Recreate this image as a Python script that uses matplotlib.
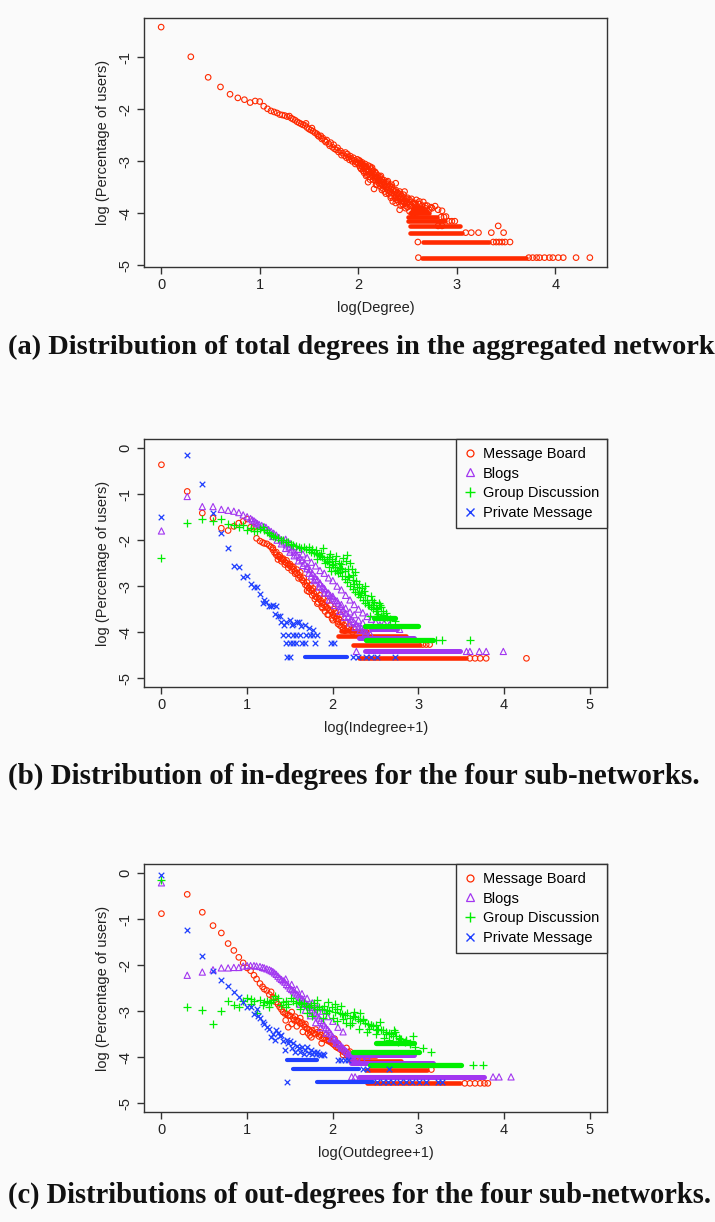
import matplotlib
matplotlib.use("Agg")
import matplotlib.pyplot as plt
from matplotlib.lines import Line2D

W, H = 715, 1222
BG = "#fafafa"
RED, PURPLE, GREEN, BLUE = "#ff2a00", "#a236f0", "#00ee00", "#1f3fff"
SANS = ["Liberation Sans", "DejaVu Sans"]
SERIF = ["Liberation Serif", "DejaVu Serif"]

# ---------------- Panel (a): total degree ----------------
A_X = [0, .301, .477, .602, .699, .778, .845, .903, .954, 1.0, 1.041, 1.079, 1.114, 1.146, 1.176,
       1.204, 1.230, 1.255, 1.279, 1.301,
       1.32, 1.34, 1.36, 1.38, 1.40, 1.42, 1.44, 1.46, 1.47, 1.48, 1.50, 1.52, 1.53, 1.54, 1.56, 1.58,
       1.59, 1.60, 1.62, 1.63, 1.64, 1.66, 1.67, 1.68, 1.70, 1.71, 1.72, 1.74, 1.75, 1.76, 1.78, 1.79,
       1.80, 1.82, 1.83, 1.84, 1.86, 1.87, 1.88, 1.89, 1.90, 1.91, 1.92, 1.93, 1.94, 1.95, 1.96, 1.97,
       1.98, 1.99, 2.00,
       2.01, 2.01, 2.02, 2.02, 2.03, 2.03, 2.04, 2.04, 2.05, 2.05, 2.06, 2.06, 2.07, 2.07, 2.08, 2.08,
       2.09, 2.09, 2.10, 2.10, 2.11, 2.11, 2.12, 2.12, 2.13, 2.13, 2.14, 2.14, 2.15, 2.15, 2.16, 2.16,
       2.17, 2.17, 2.18, 2.18, 2.19, 2.19, 2.20, 2.20, 2.21, 2.21, 2.22, 2.22, 2.23, 2.23, 2.24, 2.24,
       2.25, 2.25, 2.26, 2.26, 2.27, 2.27, 2.28, 2.28, 2.29, 2.29, 2.30, 2.30, 2.31, 2.31, 2.32, 2.32,
       2.33, 2.33, 2.34, 2.34, 2.35, 2.35, 2.36, 2.36, 2.37, 2.37, 2.38, 2.38, 2.39, 2.39, 2.40, 2.40,
       2.41, 2.41, 2.42, 2.42, 2.43, 2.43, 2.44, 2.44, 2.45, 2.45, 2.46, 2.46, 2.47, 2.47, 2.48, 2.48,
       2.49, 2.49, 2.50, 2.50, 2.52, 2.52, 2.54, 2.54, 2.555, 2.555, 2.57, 2.57, 2.59, 2.59, 2.62, 2.62,
       2.65, 2.65, 2.68, 2.68, 2.72, 2.75, 2.81, 2.85, 2.89,
       2.02, 2.06, 2.10, 2.14, 2.18, 2.22, 2.26, 2.30, 2.34, 2.38, 2.42, 2.46, 2.50, 2.54, 2.58, 2.62,
       2.66, 2.70, 2.74, 2.78,
       2.08, 2.12, 2.18, 2.24, 2.28, 2.33, 2.38, 2.43, 2.48, 2.52, 2.56, 2.60,
       2.61, 3.73, 3.77, 3.81, 3.84, 3.89, 3.94, 3.975, 4.03, 4.08, 4.21, 4.35,
       2.605, 3.37, 3.40, 3.43, 3.46, 3.49, 3.54,
       3.09, 3.147, 3.22, 3.35, 3.475,
       2.81, 2.85, 3.42,
       2.92, 2.95, 2.98,
       2.84, 2.87]
A_Y = [-0.42, -0.99, -1.385, -1.57, -1.71, -1.78, -1.815, -1.87, -1.84, -1.85, -1.94, -1.99, -2.03, -2.05,
       -2.07, -2.10, -2.11, -2.12, -2.14, -2.13,
       -2.17, -2.19, -2.21, -2.24, -2.26, -2.28, -2.30, -2.31, -2.27, -2.35, -2.38, -2.40, -2.36, -2.42,
       -2.45, -2.47, -2.50, -2.52, -2.51, -2.57, -2.55, -2.60, -2.63, -2.59, -2.66, -2.70, -2.64, -2.73,
       -2.68, -2.76, -2.78, -2.74, -2.82, -2.80, -2.88, -2.84, -2.89, -2.83, -2.93, -2.86, -2.92, -2.97,
       -2.90, -2.95, -3.00, -2.93, -2.98, -3.05, -3.02, -2.96, -3.04,
       -3.08, -2.98, -3.12, -3.03, -3.05, -3.15, -3.10, -3.02, -3.18, -3.07, -3.09, -3.22, -3.12, -3.05,
       -3.20, -3.10, -3.14, -3.26, -3.08, -3.40, -3.17, -3.25, -3.10, -3.30, -3.22, -3.14, -3.28, -3.12,
       -3.18, -3.35, -3.25, -3.53, -3.20, -3.32, -3.23, -3.38, -3.30, -3.45, -3.27, -3.36, -3.33, -3.42,
       -3.30, -3.48, -3.38, -3.28, -3.44, -3.35, -3.40, -3.52, -3.36, -3.47, -3.45, -3.58, -3.42, -3.50,
       -3.48, -3.40, -3.55, -3.45, -3.50, -3.62, -3.58, -3.47, -3.53, -3.66, -3.60, -3.50, -3.77, -3.56,
       -3.63, -3.55, -3.58, -3.70, -3.66, -3.42, -3.62, -3.74, -3.70, -3.60, -3.66, -3.78, -3.93, -3.72,
       -3.70, -3.63, -3.76, -3.68, -3.82, -3.72, -3.70, -3.78, -3.58, -3.80, -3.76, -3.85, -3.82, -3.72,
       -3.79, -3.88, -3.82, -3.74, -3.85, -3.78, -4.00, -3.80, -3.82, -3.90, -3.74, -3.87, -3.77, -3.90,
       -3.85, -3.93, -3.90, -3.85, -3.93, -3.90, -3.93, -3.95, -4.06,
       -3.00, -3.14, -3.20, -3.20, -3.30, -3.36, -3.40, -3.38, -3.45, -3.55, -3.58, -3.64, -3.70, -3.72,
       -3.80, -3.82, -3.78, -3.85, -3.88, -3.86,
       -3.28, -3.35, -3.45, -3.55, -3.62, -3.70, -3.80, -3.85, -3.90, -3.96, -4.00, -3.98,
       -4.85, -4.85, -4.85, -4.85, -4.85, -4.85, -4.85, -4.85, -4.85, -4.85, -4.85, -4.85,
       -4.55, -4.55, -4.55, -4.55, -4.55, -4.55, -4.55,
       -4.37, -4.37, -4.37, -4.37, -4.37,
       -4.24, -4.24, -4.24,
       -4.15, -4.15, -4.15,
       -4.07, -4.07]
A_BAND_Y = [-4.85, -4.55, -4.37, -4.24, -4.15, -4.07, -4.00, -3.95, -3.90]
A_BAND_X0 = [2.65, 2.66, 2.52, 2.52, 2.50, 2.50, 2.53, 2.55, 2.56]
A_BAND_X1 = [3.70, 3.33, 3.05, 3.03, 2.88, 2.80, 2.72, 2.70, 2.66]

# ---------------- Panel (b): in-degree ----------------
B_RED_X = [0, .301, .477, .602, .699, .778, .845, .903, .954, 1.0, 1.04, 1.08, 1.11, 1.15, 1.18, 1.20,
           1.23, 1.26, 1.28, 1.30, 1.32, 1.34, 1.36, 1.38, 1.40, 1.42, 1.44, 1.46, 1.48, 1.50, 1.52,
           1.54, 1.56, 1.58, 1.60, 1.62, 1.64, 1.66, 1.68, 1.70, 1.72, 1.74, 1.76, 1.78, 1.80, 1.82,
           1.84, 1.86, 1.88, 1.90, 1.92, 1.94, 1.96, 1.98, 2.00, 2.02, 2.04, 2.06, 2.08, 2.10, 2.12, 2.14,
           1.62, 1.66, 1.70, 1.72, 1.74, 1.77, 1.79, 1.81, 1.83, 1.85, 1.87, 1.89, 1.91, 1.93, 1.95,
           1.97, 1.99, 2.01, 2.03, 2.05, 2.07, 2.09, 2.11, 2.13, 2.15, 2.17, 2.19, 2.21, 2.23, 2.25,
           1.30, 1.34, 1.38, 1.42, 1.46, 1.50, 1.54, 1.58,
           1.36, 1.40, 1.44, 1.48, 1.52, 1.56, 1.60,
           1.70, 1.76, 1.82, 1.88, 1.94, 2.00, 2.06,
           3.60, 3.66, 3.72, 3.79, 4.26, 3.05, 3.09, 3.13]
B_RED_Y = [-0.36, -0.94, -1.41, -1.52, -1.74, -1.79, -1.70, -1.63, -1.59, -1.54, -1.72, -1.72, -1.96,
           -2.02, -2.05, -2.07, -2.08, -2.12, -2.15, -2.21, -2.27, -2.32, -2.35, -2.37, -2.40, -2.43,
           -2.47, -2.50, -2.53, -2.56, -2.58, -2.63, -2.68, -2.72, -2.75, -2.80, -2.86, -2.90, -2.97,
           -3.00, -3.04, -3.07, -3.10, -3.16, -3.23, -3.25, -3.27, -3.32, -3.37, -3.42, -3.45, -3.48,
           -3.52, -3.55, -3.62, -3.66, -3.72, -3.77, -3.85, -3.88, -3.93, -3.97,
           -2.70, -2.82, -2.92, -3.12, -2.98, -3.05, -3.28, -3.12, -3.35, -3.20, -3.45, -3.28, -3.55,
           -3.33, -3.62, -3.42, -3.70, -3.50, -3.58, -3.65, -3.72, -3.62, -3.78, -3.85, -3.80, -3.92,
           -3.88, -3.95, -4.00, -3.93,
           -2.17, -2.26, -2.33, -2.40, -2.44, -2.52, -2.58, -2.64,
           -2.42, -2.46, -2.53, -2.60, -2.66, -2.73, -2.83,
           -3.10, -3.20, -3.38, -3.48, -3.62, -3.74, -3.82,
           -4.57, -4.57, -4.57, -4.57, -4.57, -4.27, -4.27, -4.27]
B_RED_BAND_Y = [-4.57, -4.27, -4.09, -3.97]
B_RED_BAND_X0 = [2.31, 2.24, 2.06, 2.10]
B_RED_BAND_X1 = [3.56, 3.02, 2.85, 2.40]

B_PUR_X = [0, .301, .477, .602, .699, .778, .845, .903, .954, 1.0, 1.04, 1.06, 1.08, 1.10, 1.12, 1.14,
           1.17, 1.20, 1.22, 1.25, 1.28, 1.31, 1.34, 1.37, 1.40, 1.43, 1.46, 1.49, 1.52, 1.55, 1.58,
           1.61, 1.64, 1.67, 1.70, 1.73, 1.76, 1.79, 1.82, 1.85, 1.88, 1.91, 1.94, 1.97, 2.00, 2.03,
           2.06, 2.09, 2.12, 2.15, 2.18, 2.21, 2.24, 2.27, 2.30, 2.33, 2.36, 2.39,
           1.45, 1.50, 1.55, 1.60, 1.65, 1.70, 1.75, 1.80, 1.85, 1.90, 1.95, 2.00, 2.05, 2.10, 2.15,
           2.20, 2.25, 2.30, 2.35, 2.40, 2.45, 2.50, 2.55, 2.60, 2.66,
           1.72, 1.78, 1.84, 1.90, 1.96, 2.02, 2.08, 2.14, 2.20, 2.26, 2.32, 2.38, 2.44,
           1.30, 1.35, 1.40, 1.45, 1.50, 1.55, 1.60, 1.65, 1.70, 1.75, 1.80, 1.85, 1.90, 1.95, 2.00,
           2.05, 2.10, 2.15, 2.20, 2.25, 2.30, 2.35,
           2.275, 3.56, 3.60, 3.71, 3.79, 3.99, 2.78]
B_PUR_Y = [-1.80, -1.05, -1.27, -1.27, -1.33, -1.35, -1.37, -1.40, -1.45, -1.49, -1.53, -1.56, -1.58,
           -1.61, -1.64, -1.66, -1.68, -1.71, -1.72, -1.77, -1.81, -1.85, -1.89, -1.94, -1.99, -2.04,
           -2.10, -2.15, -2.21, -2.26, -2.32, -2.37, -2.43, -2.50, -2.57, -2.64, -2.72, -2.79, -2.86,
           -2.93, -3.01, -3.08, -3.15, -3.20, -3.26, -3.31, -3.37, -3.44, -3.52, -3.59, -3.66, -3.72,
           -3.77, -3.82, -3.88, -3.91, -3.95, -3.99,
           -1.98, -2.07, -2.14, -2.20, -2.30, -2.38, -2.48, -2.56, -2.66, -2.72, -2.82, -2.88, -3.00,
           -3.08, -3.20, -3.30, -3.40, -3.50, -3.58, -3.66, -3.72, -3.78, -3.84, -3.80, -3.84,
           -2.72, -2.88, -3.02, -3.15, -3.30, -3.42, -3.55, -3.68, -3.80, -3.90, -3.96, -4.02, -4.05,
           -1.92, -2.00, -2.08, -2.18, -2.26, -2.34, -2.45, -2.55, -2.62, -2.78, -2.85, -2.95, -3.05,
           -3.15, -3.22, -3.32, -3.40, -3.48, -3.56, -3.62, -3.74, -3.80,
           -4.42, -4.42, -4.42, -4.42, -4.42, -4.42, -3.94]
B_PUR_BAND_Y = [-4.42, -4.12, -3.94]
B_PUR_BAND_X0 = [2.38, 2.30, 2.45]
B_PUR_BAND_X1 = [3.48, 2.95, 2.75]

B_GRN_X = [0, .301, .477, .602, .699, .778, .845, .903, .954, 1.0, 1.04, 1.08, 1.11, 1.15, 1.18, 1.20,
           1.23, 1.26, 1.28, 1.30, 1.33, 1.36, 1.39, 1.42, 1.45, 1.48, 1.51, 1.54, 1.57, 1.60, 1.63,
           1.66, 1.69, 1.72, 1.75, 1.78, 1.81, 1.84, 1.87, 1.90, 1.93, 1.96, 1.99, 2.02, 2.05, 2.08,
           2.11, 2.14, 2.17, 2.20, 2.23, 2.26, 2.29, 2.32, 2.35, 2.38, 2.41, 2.44, 2.47, 2.50, 2.53,
           2.56, 2.60,
           1.80, 1.85, 1.89, 1.93, 1.97, 2.00, 2.04, 2.08, 2.12, 2.16, 2.18, 2.20, 2.24, 2.26, 2.30,
           2.34, 2.38, 2.43, 2.47, 2.51, 2.55, 2.59, 2.63, 2.67, 2.72,
           1.72, 1.76, 1.82, 1.86, 1.91, 1.95, 1.98, 2.02, 2.06, 2.10, 2.14, 2.18, 2.22, 2.25, 2.28,
           2.31, 2.36, 2.40, 2.44, 2.48, 2.52, 2.56, 2.62,
           1.95, 1.99, 2.03, 2.07, 2.11, 2.15, 2.19, 2.23, 2.27, 2.33, 2.37, 2.42, 2.46, 2.50, 2.54, 2.58,
           3.21, 3.27, 3.60]
B_GRN_Y = [-2.38, -1.62, -1.54, -1.59, -1.54, -1.65, -1.67, -1.72, -1.67, -1.78, -1.74, -1.80, -1.81,
           -1.76, -1.72, -1.78, -1.82, -1.85, -1.88, -1.90, -1.93, -1.95, -1.99, -2.00, -2.03, -2.05,
           -2.08, -2.10, -2.12, -2.14, -2.16, -2.15, -2.20, -2.22, -2.25, -2.27, -2.30, -2.33, -2.36,
           -2.40, -2.45, -2.48, -2.52, -2.58, -2.64, -2.70, -2.77, -2.85, -2.92, -3.00, -3.06, -3.12,
           -3.18, -3.24, -3.30, -3.36, -3.40, -3.45, -3.50, -3.55, -3.60, -3.66, -3.70,
           -2.22, -2.35, -2.17, -2.42, -2.30, -2.55, -2.35, -2.60, -2.39, -2.33, -2.62, -2.50, -2.86,
           -2.70, -2.95, -3.05, -3.20, -3.64, -3.42, -3.64, -3.42, -3.55, -3.68, -3.72, -3.75,
           -2.15, -2.20, -2.40, -2.28, -2.50, -2.36, -2.66, -2.45, -2.72, -2.52, -2.68, -2.78, -2.62,
           -2.95, -3.02, -3.12, -3.10, -3.30, -3.22, -3.35, -3.50, -3.45, -3.58,
           -2.58, -2.40, -2.68, -2.50, -2.62, -2.45, -2.80, -2.75, -2.88, -3.15, -3.00, -3.40, -3.30,
           -3.48, -3.36, -3.62,
           -4.17, -4.17, -4.17]
B_GRN_BAND_Y = [-4.17, -3.87, -3.69]
B_GRN_BAND_X0 = [2.39, 2.37, 2.48]
B_GRN_BAND_X1 = [3.17, 2.99, 2.72]

B_BLU_X = [0, .301, .477, .602, .699, .778, .845, .903, .954, 1.0, 1.04, 1.08, 1.11, 1.15, 1.18, 1.20,
           1.22, 1.25, 1.28, 1.30, 1.32, 1.34, 1.36, 1.38, 1.40, 1.43, 1.45, 1.50, 1.52, 1.53, 1.58,
           1.60, 1.63, 1.68, 1.72, 1.77,
           1.42, 1.48, 1.535, 1.575, 1.62, 1.69, 1.73, 1.77, 1.81,
           1.45, 1.50, 1.535, 1.575, 1.645, 1.67, 1.79, 1.98, 2.01,
           1.46, 1.50, 2.24, 2.29, 2.39, 2.45, 2.51, 2.72]
B_BLU_Y = [-1.50, -0.15, -0.78, -1.41, -1.84, -2.17, -2.56, -2.58, -2.81, -2.78, -2.95, -3.02, -3.02,
           -3.17, -3.36, -3.30, -3.35, -3.44, -3.44, -3.42, -3.60, -3.44, -3.66, -3.65, -3.79, -3.84,
           -3.77, -3.74, -3.84, -3.83, -3.77, -3.77, -3.86, -3.84, -3.92, -3.95,
           -4.06, -4.06, -4.06, -4.06, -4.06, -4.06, -4.06, -4.06, -4.06,
           -4.24, -4.24, -4.24, -4.24, -4.24, -4.24, -4.24, -4.24, -4.24,
           -4.54, -4.54, -4.54, -4.54, -4.54, -4.54, -4.54, -4.54]
B_BLU_BAND_Y = [-4.54]
B_BLU_BAND_X0 = [1.67]
B_BLU_BAND_X1 = [2.16]

# ---------------- Panel (c): out-degree ----------------
C_RED_X = [0, .301, .477, .602, .699, .778, .845, .903, .954, 1.0, 1.04, 1.08, 1.11, 1.15, 1.18, 1.20,
           1.23, 1.26, 1.28, 1.30, 1.32, 1.34, 1.36, 1.38, 1.40, 1.42, 1.44, 1.46, 1.48, 1.50, 1.52,
           1.54, 1.56, 1.58, 1.60, 1.62, 1.64, 1.66, 1.68, 1.70, 1.72, 1.74, 1.76, 1.78, 1.80, 1.82,
           1.84, 1.86, 1.88, 1.90, 1.92, 1.94, 1.96, 1.98, 2.00, 2.02, 2.04, 2.06, 2.08, 2.10, 2.12,
           2.14, 2.16, 2.18, 2.20, 2.22, 2.25, 2.28,
           1.45, 1.48, 1.52, 1.55, 1.58, 1.62, 1.65, 1.68, 1.71, 1.73, 1.75, 1.80, 1.85, 1.87, 1.92,
           1.96, 2.02, 2.06, 2.12, 2.16, 2.20,
           3.54, 3.60, 3.66, 3.72, 3.77, 3.81, 3.15]
C_RED_Y = [-0.88, -0.46, -0.85, -1.14, -1.30, -1.53, -1.68, -1.83, -1.95, -2.06, -2.12, -2.22, -2.30,
           -2.40, -2.47, -2.52, -2.55, -2.64, -2.58, -2.70, -2.72, -2.80, -2.85, -2.91, -2.96, -3.02,
           -3.05, -3.06, -3.09, -3.10, -3.02, -3.16, -3.12, -3.20, -3.22, -3.27, -3.25, -3.30, -3.35,
           -3.38, -3.40, -3.45, -3.42, -3.48, -3.50, -3.46, -3.55, -3.52, -3.60, -3.58, -3.62, -3.64,
           -3.66, -3.68, -3.71, -3.74, -3.78, -3.80, -3.82, -3.85, -3.88, -3.90, -3.93, -3.90, -3.95,
           -3.98, -4.00, -4.02,
           -3.20, -3.35, -3.28, -3.20, -3.33, -3.15, -3.45, -3.28, -3.48, -3.53, -3.57, -3.40, -3.46,
           -3.70, -3.52, -3.64, -3.60, -3.70, -3.95, -3.80, -3.88,
           -4.57, -4.57, -4.57, -4.57, -4.57, -4.57, -4.27]
C_RED_BAND_Y = [-4.57, -4.27, -4.09, -3.97]
C_RED_BAND_X0 = [2.40, 2.39, 2.20, 2.15]
C_RED_BAND_X1 = [3.48, 3.10, 2.80, 2.50]

C_PUR_X = [0, .301, .477, .602, .699, .778, .845, .903, .954, 1.0, 1.04, 1.08, 1.11, 1.15, 1.18, 1.20,
           1.23, 1.26, 1.28, 1.30, 1.32, 1.34, 1.36, 1.38, 1.40, 1.42, 1.44, 1.46, 1.48, 1.50, 1.52,
           1.54, 1.56, 1.58, 1.60, 1.62, 1.64, 1.66, 1.68, 1.70, 1.72, 1.74, 1.76, 1.78, 1.80, 1.82,
           1.84, 1.86, 1.88, 1.90, 1.92, 1.94, 1.96, 1.98, 2.00, 2.02, 2.04, 2.06, 2.08, 2.10, 2.12,
           2.14, 2.16, 2.18, 2.20, 2.22, 2.24,
           1.62, 1.68, 1.74, 1.80, 1.86, 1.92, 1.98, 2.04, 2.10, 2.16, 2.22, 2.28, 2.34, 2.40,
           1.45, 1.52, 1.58, 1.64, 1.70, 1.76, 1.82, 1.88, 1.94, 2.00, 2.06, 2.12,
           2.22, 2.26, 3.87, 3.94, 4.08]
C_PUR_Y = [-0.21, -2.22, -2.15, -2.10, -2.06, -2.06, -2.05, -2.05, -2.02, -2.01, -2.01, -2.01, -2.02,
           -2.03, -2.05, -2.06, -2.08, -2.10, -2.12, -2.14, -2.17, -2.20, -2.24, -2.28, -2.31, -2.34,
           -2.37, -2.42, -2.45, -2.50, -2.53, -2.56, -2.60, -2.63, -2.67, -2.70, -2.73, -2.77, -2.82,
           -2.86, -2.88, -2.92, -2.97, -3.02, -3.06, -3.10, -3.15, -3.20, -3.26, -3.30, -3.36, -3.40,
           -3.45, -3.50, -3.56, -3.60, -3.64, -3.69, -3.73, -3.76, -3.80, -3.84, -3.88, -3.92, -3.95,
           -3.98, -4.00,
           -2.85, -2.98, -3.10, -3.25, -3.36, -3.48, -3.60, -3.70, -3.80, -3.88, -3.95, -4.00, -4.03,
           -3.98,
           -2.30, -2.42, -2.52, -2.62, -2.72, -2.82, -2.92, -3.00, -3.12, -3.22, -3.35, -3.45,
           -4.43, -4.43, -4.43, -4.43, -4.43]
C_PUR_BAND_Y = [-4.43, -4.13, -3.95]
C_PUR_BAND_X0 = [2.30, 2.21, 2.16]
C_PUR_BAND_X1 = [3.77, 3.17, 2.95]

C_GRN_X = [0, .301, .477, .602, .699, .778, .845, .903, .954, 1.0, 1.04, 1.08, 1.11, 1.15, 1.18, 1.20,
           1.23, 1.26, 1.28, 1.30, 1.33, 1.36, 1.39, 1.42, 1.45, 1.48, 1.51, 1.54, 1.57, 1.60, 1.63,
           1.66, 1.69, 1.72, 1.75, 1.78, 1.81, 1.84, 1.87, 1.90, 1.93, 1.96, 1.99, 2.02, 2.05, 2.08,
           2.11, 2.14, 2.17, 2.20, 2.23, 2.26, 2.29, 2.32, 2.35, 2.38, 2.41, 2.44, 2.47, 2.50, 2.53,
           2.56, 2.59, 2.62, 2.65, 2.68, 2.71, 2.74, 2.77, 2.80, 2.85, 2.90, 2.94,
           1.70, 1.76, 1.82, 1.88, 1.94, 2.00, 2.05, 2.10, 2.15, 2.20, 2.25, 2.30, 2.35, 2.40, 2.45,
           2.50, 2.55, 2.60, 2.66, 2.72, 2.78, 2.84, 2.90,
           1.05, 1.25, 1.45, 1.62, 1.78, 1.92, 2.02, 2.12, 2.22, 2.32, 2.42, 2.52, 2.62, 2.70, 2.76,
           2.86, 2.96, 3.05,
           3.64, 3.75, 3.15]
C_GRN_Y = [-0.14, -2.90, -2.97, -3.27, -3.00, -2.78, -2.87, -2.90, -2.77, -2.71, -2.73, -2.77, -3.05,
           -2.75, -2.87, -2.80, -2.77, -2.82, -2.80, -2.76, -2.68, -2.72, -2.87, -2.80, -2.77, -2.85,
           -2.71, -2.78, -2.82, -2.80, -2.85, -2.83, -2.88, -2.90, -2.86, -2.92, -2.95, -2.90, -2.96,
           -2.88, -2.98, -3.00, -2.90, -3.02, -2.95, -3.04, -3.06, -3.08, -3.05, -3.15, -3.10, -3.12,
           -3.18, -3.22, -3.20, -3.25, -3.28, -3.30, -3.33, -3.30, -3.38, -3.40, -3.42, -3.45, -3.48,
           -3.50, -3.40, -3.55, -3.58, -3.60, -3.65, -3.70, -3.55,
           -3.05, -3.10, -2.75, -3.15, -2.80, -3.14, -3.22, -2.88, -3.25, -3.30, -3.02, -3.38, -3.17,
           -3.45, -3.30, -3.50, -3.24, -3.58, -3.62, -3.46, -3.60, -3.68, -3.72,
           -2.85, -2.90, -2.92, -2.95, -2.82, -3.05, -2.85, -3.18, -3.25, -3.05, -3.38, -3.42, -3.50,
           -3.55, -3.68, -3.62, -3.78, -3.80,
           -4.17, -4.17, -3.89]
C_GRN_BAND_Y = [-4.17, -3.89, -3.70]
C_GRN_BAND_X0 = [2.43, 2.24, 2.50]
C_GRN_BAND_X1 = [3.50, 3.01, 2.95]

C_BLU_X = [0, .301, .477, .602, .699, .778, .845, .903, .954, 1.0, 1.04, 1.08, 1.11, 1.13, 1.15, 1.18,
           1.20, 1.23, 1.26, 1.28, 1.30, 1.32, 1.34, 1.36, 1.38, 1.40, 1.42, 1.44, 1.46, 1.48, 1.50,
           1.52, 1.54, 1.56, 1.58, 1.60, 1.62, 1.64, 1.66, 1.68, 1.70, 1.72, 1.74, 1.76, 1.78, 1.80,
           1.82, 1.84, 1.86, 1.88, 1.90,
           2.06, 2.10, 2.14, 2.18,
           2.35, 2.40, 2.66,
           1.47, 2.52, 2.58, 2.64, 2.70, 2.78, 2.85, 2.93, 3.01, 3.09, 3.23, 3.27]
C_BLU_Y = [-0.05, -1.23, -1.79, -2.13, -2.32, -2.46, -2.59, -2.70, -2.80, -2.90, -2.91, -3.06, -2.95,
           -3.10, -3.16, -3.23, -3.28, -3.35, -3.38, -3.56, -3.49, -3.63, -3.42, -3.48, -3.55, -3.52,
           -3.66, -3.84, -3.62, -3.70, -3.66, -3.81, -3.70, -3.88, -3.75, -3.81, -3.88, -3.77, -3.93,
           -3.84, -3.77, -3.91, -3.84, -3.93, -3.88, -3.93, -3.88, -3.93, -3.95, -3.93, -3.95,
           -4.07, -4.07, -4.07, -4.07,
           -4.25, -4.25, -4.25,
           -4.54, -4.54, -4.54, -4.54, -4.54, -4.54, -4.54, -4.54, -4.54, -4.54, -4.54, -4.54]
C_BLU_BAND_Y = [-4.07, -4.25, -4.54]
C_BLU_BAND_X0 = [1.46, 1.54, 1.81]
C_BLU_BAND_X1 = [1.81, 2.30, 2.47]

SERIES = ["Message Board", "Blogs", "Group Discussion", "Private Message"]
X_TICKS_A = [0, 1, 2, 3, 4]
Y_TICKS_A = [-5, -4, -3, -2, -1]
X_TICKS_BC = [0, 1, 2, 3, 4, 5]
Y_TICKS_BC = [-5, -4, -3, -2, -1, 0]
CAPTIONS = ["(a) Distribution of total degrees in the aggregated network",
            "(b) Distribution of in-degrees for the four sub-networks.",
            "(c) Distributions of out-degrees for the four sub-networks."]

# ---------------- styles ----------------
STY = {
    "o": dict(color=RED, s=16, lw=0.8, band=3.3),
    "^": dict(color=PURPLE, s=20, lw=0.8, band=3.6),
    "+": dict(color=GREEN, s=30, lw=0.9, band=3.8),
    "x": dict(color=BLUE, s=16, lw=0.9, band=3.0),
}

fig = plt.figure(figsize=(W / 100, H / 100), dpi=100, facecolor=BG)


def add_axes(l, t, r, b):
    return fig.add_axes([l / W, 1 - b / H, (r - l) / W, (b - t) / H], facecolor=BG)


def draw(ax, xs, ys, by, bx0, bx1, m):
    st = STY[m]
    for yl, a, b in zip(by, bx0, bx1):
        ax.plot([a, b], [yl, yl], color=st["color"], lw=st["band"], solid_capstyle="round", zorder=2)
    if m in ("o", "^"):
        ax.scatter(xs, ys, s=st["s"], marker=m, facecolors="none", edgecolors=st["color"],
                   linewidths=st["lw"], zorder=2)
    else:
        ax.scatter(xs, ys, s=st["s"], marker=m, color=st["color"], linewidths=st["lw"], zorder=2)


def style(ax, xt, yt, xlabel, xlab_y, ylab_x):
    for sp in ax.spines.values():
        sp.set_color("#333333")
        sp.set_linewidth(1.0)
    ax.set_xticks(xt)
    ax.set_yticks(yt)
    ax.set_xticklabels([str(v) for v in xt], fontfamily=SANS, fontsize=10.5)
    ax.set_yticklabels([str(v) for v in yt], fontfamily=SANS, fontsize=10.5, rotation=90, va="center")
    ax.tick_params(axis="both", direction="out", length=5, width=1.0, color="#333333", labelcolor="#222222")
    ax.tick_params(axis="x", pad=3)
    ax.tick_params(axis="y", pad=3.5)
    ax.set_xlabel(xlabel, fontfamily=SANS, fontsize=10.5, color="#222222")
    ax.set_ylabel("log (Percentage of users)", fontfamily=SANS, fontsize=10.5, color="#222222")
    ax.xaxis.set_label_coords(0.5, xlab_y)
    ax.xaxis.label.set_va("center")
    ax.yaxis.set_label_coords(ylab_x, 0.5)
    ax.yaxis.label.set_va("center")


def legend(ax):
    handles = [Line2D([], [], ls="none", marker="o", mfc="none", mec=RED, ms=5, mew=0.9),
               Line2D([], [], ls="none", marker="^", mfc="none", mec=PURPLE, ms=6, mew=0.9),
               Line2D([], [], ls="none", marker="+", color=GREEN, ms=7.5, mew=1.0),
               Line2D([], [], ls="none", marker="x", color=BLUE, ms=5.5, mew=1.0)]
    lg = ax.legend(handles, SERIES, loc="upper right", bbox_to_anchor=(1, 1), borderaxespad=0,
                   prop={"family": SANS, "size": 10.5}, frameon=True, fancybox=False,
                   edgecolor="#333333", facecolor=BG, framealpha=1, handlelength=0.8,
                   handletextpad=0.45, labelspacing=0.38, borderpad=0.55)
    lg.get_frame().set_linewidth(1.0)
    lg.set_zorder(5)


# Panel (a)
axa = add_axes(144, 18, 607, 267)
draw(axa, A_X, A_Y, A_BAND_Y, A_BAND_X0, A_BAND_X1, "o")
axa.set_xlim(-0.174, 4.524)
axa.set_ylim(-5.03, -0.245)
style(axa, X_TICKS_A, Y_TICKS_A, "log(Degree)", -(308 - 267) / 249, -(144 - 103) / 463)

# Panel (b)
axb = add_axes(144.3, 439, 607, 687.3)
draw(axb, B_RED_X, B_RED_Y, B_RED_BAND_Y, B_RED_BAND_X0, B_RED_BAND_X1, "o")
draw(axb, B_PUR_X, B_PUR_Y, B_PUR_BAND_Y, B_PUR_BAND_X0, B_PUR_BAND_X1, "^")
draw(axb, B_GRN_X, B_GRN_Y, B_GRN_BAND_Y, B_GRN_BAND_X0, B_GRN_BAND_X1, "+")
draw(axb, B_BLU_X, B_BLU_Y, B_BLU_BAND_Y, B_BLU_BAND_X0, B_BLU_BAND_X1, "x")
axb.set_xlim(-0.2, 5.2)
axb.set_ylim(-5.2, 0.2)
style(axb, X_TICKS_BC, Y_TICKS_BC, "log(Indegree+1)", -(728 - 687.3) / 248.3, -(144.3 - 103) / 462.7)
legend(axb)

# Panel (c)
axc = add_axes(144.3, 864, 607, 1112.3)
draw(axc, C_RED_X, C_RED_Y, C_RED_BAND_Y, C_RED_BAND_X0, C_RED_BAND_X1, "o")
draw(axc, C_PUR_X, C_PUR_Y, C_PUR_BAND_Y, C_PUR_BAND_X0, C_PUR_BAND_X1, "^")
draw(axc, C_GRN_X, C_GRN_Y, C_GRN_BAND_Y, C_GRN_BAND_X0, C_GRN_BAND_X1, "+")
draw(axc, C_BLU_X, C_BLU_Y, C_BLU_BAND_Y, C_BLU_BAND_X0, C_BLU_BAND_X1, "x")
axc.set_xlim(-0.2, 5.2)
axc.set_ylim(-5.2, 0.2)
style(axc, X_TICKS_BC, Y_TICKS_BC, "log(Outdegree+1)", -(1153 - 1112.3) / 248.3, -(144.3 - 103) / 462.7)
legend(axc)

# Captions (sized so the (b) caption spans its measured width, none leaving the page)
cap_y = [347, 776, 1195]
texts = []
for cap, yc in zip(CAPTIONS, cap_y):
    texts.append(fig.text(8 / W, 1 - yc / H, cap, fontfamily=SERIF, fontweight="bold",
                          fontsize=16, va="center", ha="left", color="#111111"))
fig.canvas.draw()
r = fig.canvas.get_renderer()
base = 16 * 696 / texts[1].get_window_extent(r).width
for t in texts:
    t.set_fontsize(base)
fig.canvas.draw()
for t in texts:
    w = t.get_window_extent(r).width
    if w > 704:
        t.set_fontsize(base * 704 / w)

fig.savefig("out.png", dpi=100, facecolor=BG)
